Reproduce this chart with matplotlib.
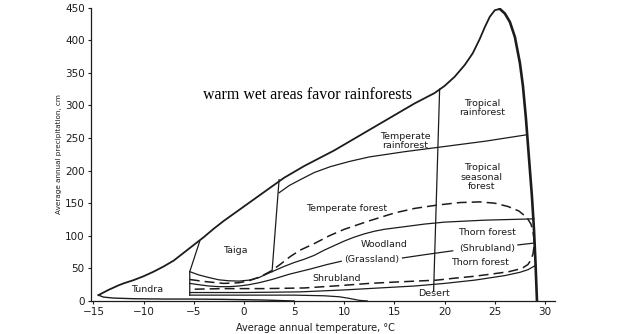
import matplotlib
matplotlib.use("Agg")
import matplotlib.pyplot as plt

### Biome boundaries: mean annual temperature [degC] vs precipitation [cm] ###

# outer envelope, from the tundra tip over the peak down to the axis
edge_temp = [-14.5, -14.0, -13.5, -13.0, -12.5, -12.0, -11.0, -10.0, -9.0,
             -8.0, -7.0, -6.0, -5.0, -4.0, -3.0, -2.0, -1.0, 0.0, 1.0, 2.0,
             3.0, 4.0, 5.0, 6.0, 7.0, 8.0, 9.0, 10.0, 11.0, 12.0, 13.0, 14.0,
             15.0, 16.0, 17.0, 18.0, 19.0, 20.0, 21.0, 22.0, 22.8, 23.5, 24.0,
             24.5, 25.0, 25.5, 26.0, 26.5, 27.0, 27.5, 27.8, 28.1, 28.3, 28.5,
             28.7, 28.9, 29.05, 29.2]
edge_prec = [9, 13, 17, 20.5, 24, 27, 32, 38, 45,
             53, 62, 74, 86, 98, 111, 123, 134, 145, 156, 167,
             178, 189, 198, 207, 215, 223, 231, 240, 249, 258, 267, 276,
             285, 294, 303, 311, 319, 330, 344, 362, 380, 402, 420,
             436, 446, 448, 441, 428, 405, 365, 330, 280, 240, 200,
             160, 110, 60, 0]

# lower edge of the tundra
tundra_temp = [-14.5, -14.0, -13.0, -11.0, -8.0, -5.4, -2.0, 2.0, 5.0]
tundra_prec = [9, 6, 4.5, 3.5, 3, 3, 2.5, 1.5, 0]

# tundra / taiga, taiga / temperate, temperate / tropical dividers
taiga_temp = [-4.4, -5.4, -5.4]
taiga_prec = [92, 45, 9]
temperate_temp = [3.5, 2.8]
temperate_prec = [186, 45]
tropical_temp = [19.5, 18.9]
tropical_prec = [325, 15]

# rainforest lower limit
rain_temp = [3.5, 4.5, 5.6, 7.0, 8.6, 10.5, 12.5, 16.0, 19.5, 24.0, 28.2]
rain_prec = [166, 177, 186, 197, 206, 214, 221, 229, 236, 245, 255]

# taiga bottom, continuing as temperate forest / woodland limit
forest_temp = [-5.4, -4.5, -3.5, -2.5, -1.5, -0.5, 0.5, 1.5, 2.8, 4.0, 5.0,
               6.0, 7.0, 8.0, 9.0, 10.0, 11.0, 12.0, 13.0, 14.0, 16.0, 18.0,
               20.0, 24.0, 28.9]
forest_prec = [45, 40, 36, 32.5, 31, 30.5, 32, 36, 45, 53, 59,
               64, 70, 78, 85, 92, 98, 103, 107, 110, 114, 118,
               121, 124, 126]

# woodland / shrubland line, broken by its labels
wood_temp = [-5.4, -4.5, -3.5, -2.5, -1.5, -0.5, 0.5, 1.5, 2.8, 4.5, 6.6,
             8.3, 9.7]
wood_prec = [27, 25, 23, 22, 22, 23, 25, 28, 33, 41, 49, 56, 61]
wood2_temp = [15.8, 18.0, 20.8]
wood2_prec = [66, 71, 77]
wood3_temp = [27.3, 29.0]
wood3_prec = [86, 89]

# desert upper limit
desert_temp = [-5.4, 0.0, 5.6, 10.0, 13.5, 17.0, 20.0, 23.0, 26.0, 27.5, 28.3,
               29.1]
desert_prec = [13, 13, 14, 17, 20, 23, 27, 32, 39, 44, 48, 55]

# cold desert lower line
cold_temp = [-5.4, 0.0, 5.0, 8.0, 9.5, 10.5, 11.5, 12.3]
cold_prec = [9, 9, 9, 8, 6.5, 4, 1, 0]

# dashed loop: upper arm left to right, then lower arm back
dash_temp = [-5.4, -4.0, -2.0, -0.5, 0.5, 1.6, 2.7, 3.6, 4.6, 5.6, 7.0, 8.5,
             10.0, 12.5, 15.0, 17.0, 19.2, 21.5, 23.5, 25.0, 26.3, 27.4, 28.2,
             28.6, 28.8, 28.9, 28.9, 28.8, 28.6, 28.3, 27.8, 27.2, 26.4, 25.0,
             23.0, 21.0, 19.2, 15.0, 12.5, 9.0, 6.0, 2.0, -2.0, -5.4]
dash_prec = [33, 30, 27, 28, 31, 37, 46, 56, 68, 78, 88, 100,
             110, 123, 135, 142, 147, 151, 152, 150, 145, 138, 128,
             118, 107, 95, 83, 72, 63, 56, 51, 48, 45, 42,
             38, 35, 32, 29, 27, 23, 20, 19, 19, 18]

# region names and where they sit
names = ["Tundra", "Taiga", "Temperate\nrainforest", "Tropical\nrainforest",
         "Tropical\nseasonal\nforest", "Temperate forest", "Woodland",
         "(Grassland)", "Shrubland", "Thorn forest", "(Shrubland)",
         "Thorn forest", "Desert"]
name_temp = [-9.6, -0.9, 16.1, 23.7, 23.7, 10.2, 14.0, 12.7, 9.2, 24.2, 24.2,
             23.5, 18.9]
name_prec = [17, 78, 245, 296, 190, 142, 86, 63, 35, 105, 81, 59, 12]

xticks = list(range(-15, 31, 5))
yticks = list(range(0, 451, 50))

### Plot ###
ink = "#1c1c1c"
fig = plt.figure(figsize=(6.36, 3.34), dpi=100)
ax = fig.add_axes([0.1431, 0.0988, 0.7296, 0.8784])

peak = edge_prec.index(max(edge_prec))
ax.plot(edge_temp[:peak + 1], edge_prec[:peak + 1], color=ink, lw=1.3,
        solid_joinstyle="round")
ax.plot(edge_temp[peak:], edge_prec[peak:], color=ink, lw=1.9,
        solid_joinstyle="round")
ax.plot(tundra_temp, tundra_prec, color=ink, lw=1.0)
thin = [(taiga_temp, taiga_prec), (temperate_temp, temperate_prec),
        (tropical_temp, tropical_prec), (rain_temp, rain_prec),
        (forest_temp, forest_prec), (wood_temp, wood_prec),
        (wood2_temp, wood2_prec), (wood3_temp, wood3_prec),
        (desert_temp, desert_prec), (cold_temp, cold_prec)]
for tt, pp in thin:
    ax.plot(tt, pp, color=ink, lw=0.9, solid_joinstyle="round")
ax.plot(dash_temp, dash_prec, color=ink, lw=1.1, linestyle=(0, (6.5, 3.3)))

for ii in range(len(names)):
    ax.text(name_temp[ii], name_prec[ii], names[ii], ha="center", va="center",
            fontsize=6.8, color=ink, linespacing=1.05)

ax.text(-4.1, 316, "warm wet areas favor rainforests", ha="left", va="center",
        fontsize=11.5, family="Liberation Serif", color="black")

ax.set_xlim(-15.24, 31.0)
ax.set_ylim(0, 450)
ax.set_xticks(xticks)
ax.set_yticks(yticks)
for side in ["top", "right"]:
    ax.spines[side].set_visible(False)
for side in ["left", "bottom"]:
    ax.spines[side].set_color(ink)
    ax.spines[side].set_linewidth(0.9)
ax.tick_params(direction="out", length=2.5, width=0.8, colors=ink,
               labelsize=7.5, pad=2)
ax.set_xlabel("Average annual temperature, °C", fontsize=7, color=ink)
ax.xaxis.set_label_coords(0.483, -0.075)
ax.set_ylabel("Average annual precipitation, cm", fontsize=5.2, color=ink)
ax.yaxis.set_label_coords(-0.0625, 0.5)

fig.savefig("out.png", dpi=100)
